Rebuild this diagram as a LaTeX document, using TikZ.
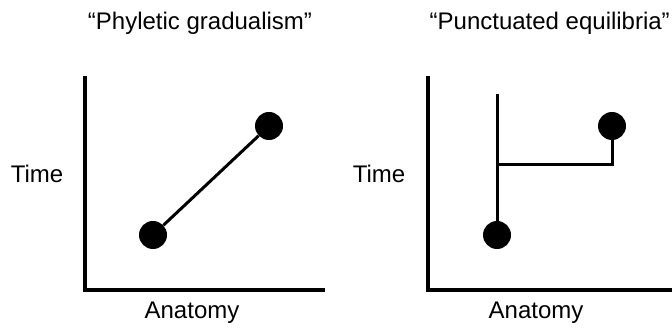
\documentclass[tikz,border=0pt]{standalone}
\usepackage{fontspec}
\setmainfont{Liberation Sans}
\usetikzlibrary{positioning}

\begin{document}
\begin{tikzpicture}[x=1pt, y=-1pt,
  dot/.style={circle, fill=black, inner sep=0pt, minimum size=28pt},
  axis/.style={line width=4.5pt},
  link/.style={line width=3pt},
  lbl/.style={font=\fontsize{24}{28}\selectfont, inner sep=0pt, anchor=base},
]
  \useasboundingbox (0,0) rectangle (672,328);

  % phyletic gradualism
  \coordinate (gtop) at (85,76);
  \coordinate (gorig) at (85,290);
  \coordinate (gend) at (325,290);
  \draw[axis] (gtop) -- (gorig) -- (gend);
  \node[dot] (g1) at (153,235) {};
  \node[dot] (g2) at (269,126) {};
  \draw[link] (g1) -- (g2);
  \node[lbl] (gtime) at (37,183) {Time};
  \node[lbl] (ganat) at (192,319) {Anatomy};
  \node[lbl] (gtitle) at (200,30) {“Phyletic gradualism”};

  % punctuated equilibria
  \coordinate (ptop) at (428,76);
  \coordinate (porig) at (428,290);
  \coordinate (pend) at (676,290);
  \draw[axis] (ptop) -- (porig) -- (pend);
  \node[dot] (p1) at (497,235) {};
  \node[dot] (p2) at (612,126) {};
  \coordinate (pstem) at (497,94);
  \coordinate (pfork) at (497,164.5);
  \draw[link] (pstem) -- (p1);
  \draw[link] (pfork) -| (p2);
  \node[lbl] (ptime) at (379,183) {Time};
  \node[lbl] (panat) at (536,319) {Anatomy};
  \node[lbl, anchor=base east] (ptitle) at (670,30) {“Punctuated equilibria”};
\end{tikzpicture}
\end{document}
